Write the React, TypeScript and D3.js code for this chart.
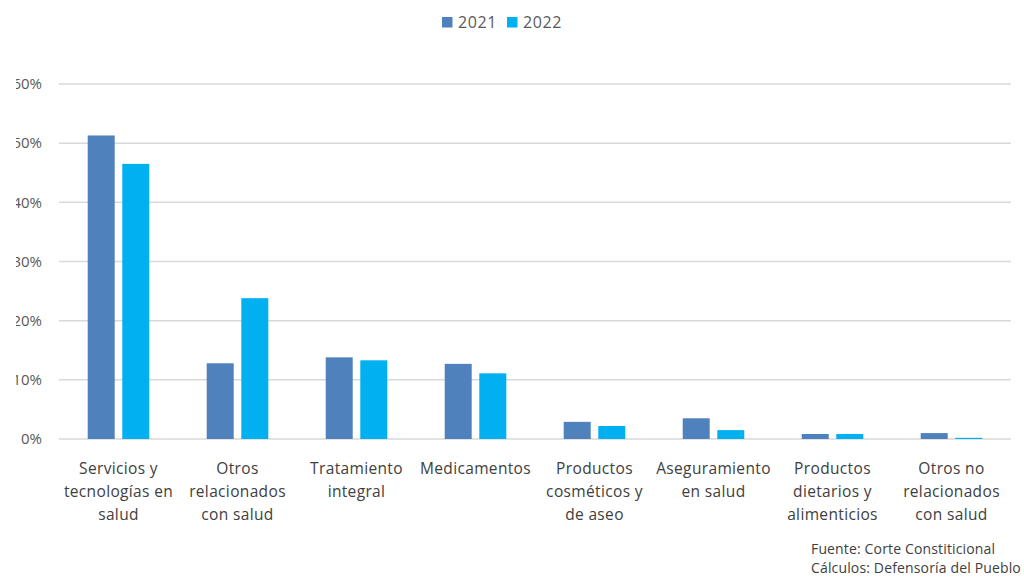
import React from "react";
import * as d3 from "d3";

const categories: string[][] = [
  ["Servicios y", "tecnologías en", "salud"],
  ["Otros", "relacionados", "con salud"],
  ["Tratamiento", "integral"],
  ["Medicamentos"],
  ["Productos", "cosméticos y", "de aseo"],
  ["Aseguramiento", "en salud"],
  ["Productos", "dietarios y", "alimenticios"],
  ["Otros no", "relacionados", "con salud"],
];
const seriesNames = ["2021", "2022"];
const values2021 = [51.3, 12.8, 13.8, 12.7, 2.9, 3.5, 0.85, 1.0];
const values2022 = [46.5, 23.8, 13.3, 11.1, 2.2, 1.5, 0.85, 0.2];
const yTicks = [0, 10, 20, 30, 40, 50, 60];
const colors = ["#4F81BD", "#00B0F0"];
const sourceLines = ["Fuente: Corte Constiticional", "Cálculos: Defensoría del Pueblo"];

const W = 1024;
const H = 577;
const FONT = "'Open Sans', 'Noto Sans', sans-serif";

export default function App() {
  const x0 = d3
    .scaleBand<number>()
    .domain(categories.map((_, i) => i))
    .range([59, 1011])
    .paddingInner(0)
    .paddingOuter(0);
  const y = d3.scaleLinear().domain([0, 60]).range([439, 84]);
  const barW = 27;
  const gap = 7.6;
  const series = [values2021, values2022];

  return (
    <div style={{ position: "absolute", left: 0, top: 0 }}>
      <svg width={W} height={H} style={{ display: "block", background: "#fff" }}>
        {yTicks.map((t) => (
          <g key={t}>
            <line x1={59} x2={1011} y1={y(t)} y2={y(t)} stroke="#d9d9d9" strokeWidth={1.5} />
            <text
              x={42}
              y={y(t)}
              dy="0.35em"
              textAnchor="end"
              fontFamily={FONT}
              fontSize={15}
              fill="#595959"
            >
              {t}%
            </text>
          </g>
        ))}
        <rect x={0} y={60} width={16} height={400} fill="#fff" />
        {categories.map((cat, i) => {
          const cx = (x0(i) as number) + x0.bandwidth() / 2;
          return (
            <g key={i}>
              {series.map((vals, s) => {
                const bx = cx - gap / 2 - barW + s * (barW + gap);
                return (
                  <rect
                    key={s}
                    x={bx}
                    y={y(vals[i])}
                    width={barW}
                    height={y(0) - y(vals[i])}
                    fill={colors[s]}
                  />
                );
              })}
              <text
                x={cx}
                y={474}
                textAnchor="middle"
                fontFamily={FONT}
                fontSize={15.5}
                letterSpacing={0.35}
                fill="#404040"
              >
                {cat.map((line, k) => (
                  <tspan key={k} x={cx} dy={k === 0 ? 0 : 23}>
                    {line}
                  </tspan>
                ))}
              </text>
            </g>
          );
        })}
        {seriesNames.map((name, s) => {
          const lx = 442 + s * 65;
          return (
            <g key={name}>
              <rect x={lx} y={17} width={10.5} height={10.5} fill={colors[s]} />
              <text
                x={lx + 16}
                y={22.5}
                dy="0.35em"
                fontFamily={FONT}
                fontSize={16}
                letterSpacing={0.6}
                fill="#595959"
              >
                {name}
              </text>
            </g>
          );
        })}
        {sourceLines.map((l, k) => (
          <text
            key={k}
            x={811}
            y={554 + k * 19}
            fontFamily={FONT}
            fontSize={14}
            letterSpacing={0.15}
            fill="#404040"
          >
            {l}
          </text>
        ))}
      </svg>
    </div>
  );
}
